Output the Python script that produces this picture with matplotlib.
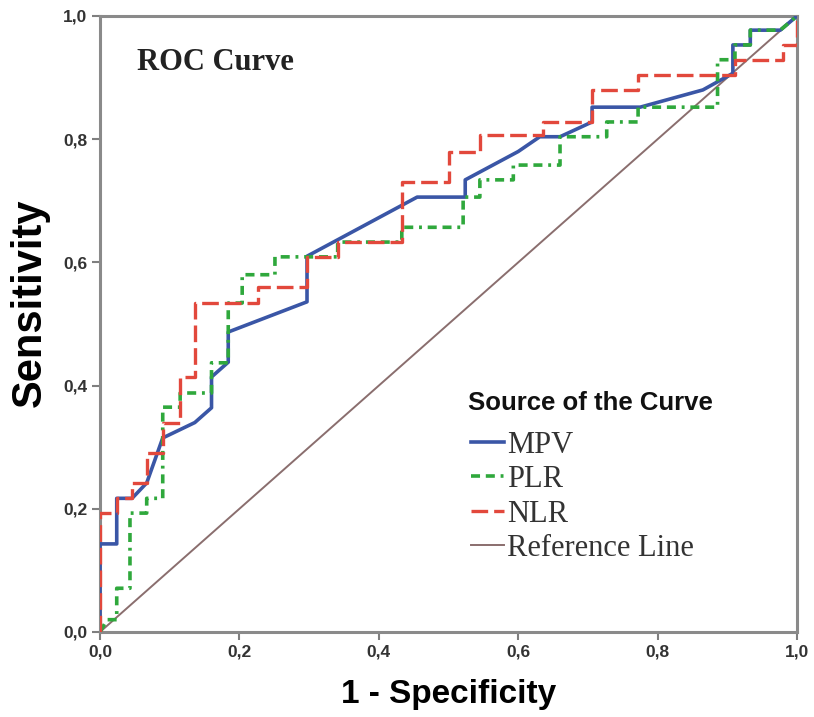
import matplotlib
matplotlib.use("Agg")
import matplotlib.pyplot as plt

# ---- data ----
mpv_x = [0, 0, 0.024, 0.024, 0.046, 0.067, 0.09, 0.136, 0.16, 0.16, 0.184, 0.184, 0.297, 0.297,
         0.455, 0.524, 0.524, 0.6, 0.631, 0.66, 0.706, 0.706, 0.775, 0.865, 0.908, 0.908,
         0.933, 0.933, 0.976, 1.0]
mpv_y = [0, 0.143, 0.143, 0.217, 0.217, 0.242, 0.315, 0.34, 0.364, 0.414, 0.438, 0.487, 0.536, 0.61,
         0.706, 0.706, 0.734, 0.78, 0.804, 0.804, 0.828, 0.852, 0.852, 0.88, 0.907, 0.953,
         0.953, 0.977, 0.977, 1.0]

plr_x = [0, 0.01, 0.024, 0.024, 0.043, 0.043, 0.067, 0.067, 0.09, 0.09, 0.115, 0.115, 0.16, 0.16,
         0.184, 0.184, 0.204, 0.204, 0.251, 0.251, 0.341, 0.341, 0.433, 0.433, 0.521, 0.521,
         0.545, 0.545, 0.593, 0.593, 0.66, 0.66, 0.727, 0.727, 0.772, 0.772, 0.886, 0.886,
         0.911, 0.911, 0.933, 0.933, 0.976, 1.0]
plr_y = [0, 0.02, 0.02, 0.071, 0.071, 0.193, 0.193, 0.217, 0.217, 0.365, 0.365, 0.388, 0.388, 0.437,
         0.437, 0.534, 0.534, 0.58, 0.58, 0.609, 0.609, 0.633, 0.633, 0.657, 0.657, 0.706,
         0.706, 0.734, 0.734, 0.758, 0.758, 0.804, 0.804, 0.828, 0.828, 0.852, 0.852, 0.929,
         0.929, 0.953, 0.953, 0.977, 0.977, 1.0]

nlr_x = [0, 0, 0.024, 0.024, 0.046, 0.046, 0.067, 0.067, 0.09, 0.09, 0.115, 0.115, 0.136, 0.136,
         0.227, 0.227, 0.297, 0.297, 0.341, 0.341, 0.433, 0.433, 0.5, 0.5, 0.545, 0.545,
         0.636, 0.636, 0.706, 0.706, 0.772, 0.772, 0.911, 0.911, 0.98, 0.98, 1.0, 1.0]
nlr_y = [0, 0.193, 0.193, 0.217, 0.217, 0.242, 0.242, 0.29, 0.29, 0.34, 0.34, 0.414, 0.414, 0.534,
         0.534, 0.56, 0.56, 0.609, 0.609, 0.633, 0.633, 0.731, 0.731, 0.78, 0.78, 0.807,
         0.807, 0.828, 0.828, 0.88, 0.88, 0.904, 0.904, 0.929, 0.929, 0.953, 0.953, 1.0]

ref_x = [0, 1]
ref_y = [0, 1]

tick_vals = [0.0, 0.2, 0.4, 0.6, 0.8, 1.0]
tick_labels = ["0,0", "0,2", "0,4", "0,6", "0,8", "1,0"]

# ---- figure ----
fig = plt.figure(figsize=(8.14, 7.17), dpi=100)
ax = fig.add_axes([100 / 814, 85 / 717, 697 / 814, 616 / 717])

blue = "#3a56a6"
green = "#2fa83c"
red = "#e2483c"
refc = "#8a6e6e"

ax.plot(ref_x, ref_y, color=refc, lw=1.4, label="Reference Line", zorder=2)
ax.plot(mpv_x, mpv_y, color=blue, lw=2.6, label="MPV", zorder=3)
ax.plot(plr_x, plr_y, color=green, lw=2.6, dashes=(2.5, 1.6, 2.5, 1.6, 0.8, 1.6), label="PLR", zorder=4)
ax.plot(nlr_x, nlr_y, color=red, lw=2.4, dashes=(5, 1.8), label="NLR", zorder=5)

ax.set_xlim(0, 1)
ax.set_ylim(0, 1)
ax.set_xticks(tick_vals)
ax.set_yticks(tick_vals)
ax.set_xticklabels(tick_labels, fontsize=12.5, fontweight="bold", family="Liberation Sans", color="#333333")
ax.set_yticklabels(tick_labels, fontsize=12.5, fontweight="bold", family="Liberation Sans", color="#333333")
ax.tick_params(direction="out", length=6, width=1.5, color="#7f7f7f", pad=3)

for s in ax.spines.values():
    s.set_color("#8a8a8a")
    s.set_linewidth(2.2)

ax.set_xlabel("1 - Specificity", fontsize=24, fontweight="bold", family="Liberation Sans", labelpad=14)
ax.set_ylabel("Sensitivity", fontsize=30, fontweight="bold", family="Liberation Sans")
ax.yaxis.set_label_coords(-0.072, 0.535)

ax.text(0.053, 0.925, "ROC Curve", transform=ax.transAxes, fontsize=22, fontweight="bold",
        family="Liberation Serif", va="center", ha="left", color="#222222")

ax.text(0.528, 0.372, "Source of the Curve", transform=ax.transAxes, fontsize=18.5,
        fontweight="bold", family="Liberation Sans", va="center", ha="left", color="#111111")

handles, labels = ax.get_legend_handles_labels()
order = [1, 2, 3, 0]
leg = ax.legend([handles[i] for i in order], [labels[i] for i in order],
                loc="upper left", bbox_to_anchor=(0.532, 0.327),
                frameon=False, handlelength=1.1, handletextpad=0.1, labelspacing=0.18,
                borderpad=0, borderaxespad=0,
                prop={"family": "Liberation Serif", "size": 22})
for t in leg.get_texts():
    t.set_color("#333333")

fig.savefig("out.png", dpi=100)
